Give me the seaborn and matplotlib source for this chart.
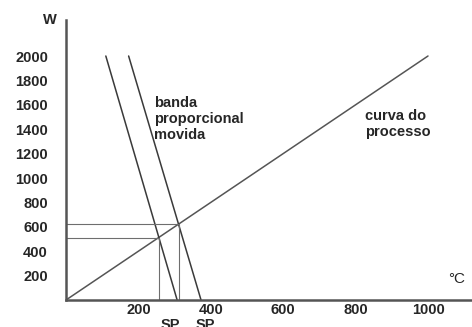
import matplotlib
matplotlib.use("Agg")
import matplotlib.pyplot as plt
import seaborn as sns
import pandas as pd

# Process curve: power (W) against temperature (°C)
process_T = [0, 1000]
process_W = [0, 2000]

# Proportional band, original and shifted
band1_T = [110, 307]
band1_W = [2000, 0]
band2_T = [173, 373]
band2_W = [2000, 0]

# Operating points where each band meets the process curve
sp_T = [256, 311]
sp_W = [512, 622]

x_ticks = [100, 200, 400, 500, 600, 700, 800, 900, 1000]
x_labels = ["", "200", "400", "", "600", "", "800", "", "1000"]
y_ticks = [200, 400, 600, 800, 1000, 1200, 1400, 1600, 1800, 2000, 2200]
y_labels = ["200", "400", "600", "800", "1000", "1200", "1400", "1600", "1800", "2000", ""]

sns.set_style("white")
plt.rcParams["font.family"] = ["Liberation Sans", "DejaVu Sans"]

fig = plt.figure(figsize=(4.72, 3.27), dpi=100)
ax = fig.add_axes([66 / 472, 27 / 327, 406 / 472, 280 / 327])
ax.set_xlim(0, 406 / 0.362)
ax.set_ylim(0, 280 / 0.122)

line_col = "#3a3a3a"
guide_col = "#6e6e6e"

proc = pd.DataFrame({"T": process_T, "W": process_W})
sns.lineplot(data=proc, x="T", y="W", ax=ax, color="#555555", lw=1.1)
sns.lineplot(x=band1_T, y=band1_W, ax=ax, color=line_col, lw=1.1)
sns.lineplot(x=band2_T, y=band2_W, ax=ax, color=line_col, lw=1.1)

# Guide lines from each operating point to both axes
for t, w in zip(sp_T, sp_W):
    sns.lineplot(x=[0, t], y=[w, w], ax=ax, color=guide_col, lw=0.8)
    ax.plot([t, t], [0, w], color=guide_col, lw=0.8)

for s in ["top", "right"]:
    ax.spines[s].set_visible(False)
for s in ["left", "bottom"]:
    ax.spines[s].set_color("#555555")
    ax.spines[s].set_linewidth(1.8)
    ax.spines[s].set_zorder(5)

ax.set_xticks(x_ticks)
ax.set_xticklabels(x_labels)
ax.set_yticks(y_ticks)
ax.set_yticklabels(y_labels)
ax.tick_params(axis="y", direction="in", length=9.5, width=1.2, color="#222222",
               pad=13, labelsize=10.5)
ax.tick_params(axis="x", direction="in", length=7.5, width=1.2, color="#222222",
               pad=2, labelsize=10.5)
for lab in ax.get_xticklabels() + ax.get_yticklabels():
    lab.set_fontweight("bold")
ax.set_xlabel("")
ax.set_ylabel("")

fig.text(50 / 472, 1 - 20 / 327, "W", ha="center", va="center",
         fontsize=10.5, fontweight="bold")
fig.text(457 / 472, 1 - 279 / 327, "°C", ha="center", va="center", fontsize=11)

ax.text(243, 1484, "banda\nproporcional\nmovida", ha="left", va="center",
        fontsize=10.5, fontweight="bold", linespacing=1.15)
ax.text(825, 1443, "curva do\nprocesso", ha="left", va="center",
        fontsize=10.5, fontweight="bold", linespacing=1.15)

# Set-point labels under the foot of each band
ax.text(band1_T[1] - 20, -150, "SP", ha="center", va="top", fontsize=10.5,
        fontweight="bold", clip_on=False)
ax.text(band2_T[1] + 12, -150, "SP", ha="center", va="top", fontsize=10.5,
        fontweight="bold", clip_on=False)

fig.savefig("out.png", dpi=100)
